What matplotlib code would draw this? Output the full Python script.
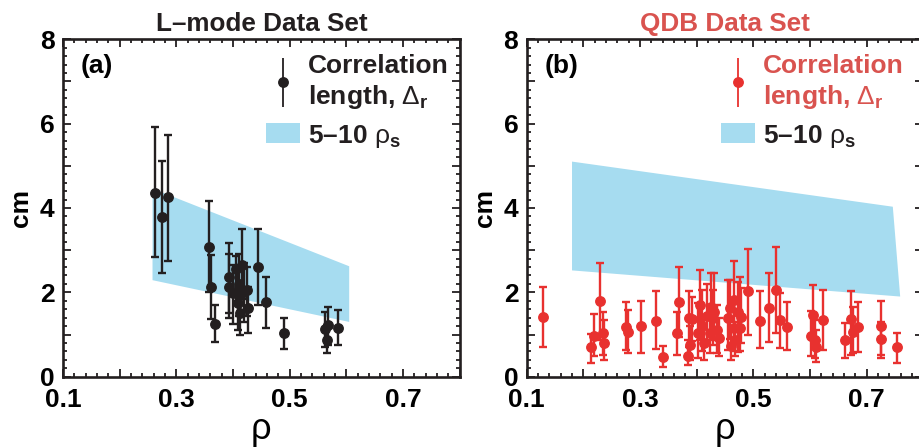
import numpy as np
import matplotlib
matplotlib.use("Agg")
import matplotlib.pyplot as plt
from matplotlib.ticker import MultipleLocator, FixedLocator, FixedFormatter
from matplotlib.container import ErrorbarContainer
from matplotlib.legend_handler import HandlerErrorbar

plt.rcParams['font.family'] = ['Liberation Sans', 'DejaVu Sans']
plt.rcParams['mathtext.fontset'] = 'custom'
plt.rcParams['mathtext.rm'] = 'Liberation Sans'
plt.rcParams['mathtext.it'] = 'Liberation Sans'
plt.rcParams['mathtext.bf'] = 'Liberation Sans:bold'

# panel (a): L-mode data set  (rho, value, lower end, upper end of error bar)
rho_a = [0.262, 0.274, 0.286, 0.358, 0.361, 0.368, 0.392, 0.392, 0.400, 0.405,
         0.408, 0.410, 0.413, 0.415, 0.420, 0.425, 0.427, 0.4435, 0.458, 0.4905,
         0.562, 0.565, 0.567, 0.586]
dr_a = [4.36, 3.79, 4.25, 3.08, 2.13, 1.26, 2.36, 2.13, 1.98, 2.55,
        1.75, 2.20, 1.50, 2.65, 2.00, 2.05, 1.62, 2.61, 1.78, 1.03,
        1.12, 0.87, 1.23, 1.16]
lo_a = [2.83, 2.45, 2.75, 2.00, 1.36, 0.82, 1.50, 1.38, 1.25, 1.80,
        1.10, 1.45, 1.00, 1.85, 1.30, 1.45, 1.04, 1.70, 1.15, 0.65,
        0.71, 0.55, 0.75, 0.75]
hi_a = [5.91, 5.12, 5.73, 4.17, 2.89, 1.70, 3.16, 2.91, 2.65, 2.85,
        2.55, 2.90, 2.10, 3.50, 2.70, 2.60, 2.13, 3.49, 2.37, 1.38,
        1.54, 1.23, 1.66, 1.58]

# panel (b): QDB data set
rho_b = [0.128, 0.213, 0.219, 0.230, 0.235, 0.236, 0.275, 0.279, 0.301, 0.329,
         0.341, 0.365, 0.369, 0.385, 0.387, 0.389, 0.392, 0.403, 0.405, 0.410,
         0.412, 0.418, 0.424, 0.426, 0.428, 0.431, 0.436, 0.440, 0.456, 0.459,
         0.460, 0.465, 0.466, 0.468, 0.472, 0.476, 0.478, 0.491, 0.512, 0.528,
         0.540, 0.547, 0.559, 0.602, 0.606, 0.608, 0.611, 0.622, 0.662, 0.672,
         0.676, 0.684, 0.725, 0.726, 0.753]
dr_b = [1.41, 0.70, 0.97, 1.79, 1.04, 0.79, 1.17, 1.07, 1.20, 1.32,
        0.46, 1.03, 1.76, 0.50, 1.38, 0.75, 1.36, 1.03, 1.70, 1.19,
        0.80, 1.45, 1.03, 1.66, 1.38, 1.54, 1.11, 0.91, 1.38, 1.62,
        0.73, 1.82, 1.15, 0.87, 1.54, 1.15, 1.42, 2.02, 1.33, 1.64,
        2.06, 1.34, 1.17, 0.97, 1.46, 0.87, 0.71, 1.34, 0.87, 1.36,
        1.07, 1.17, 1.20, 0.89, 0.70]
lo_b = [0.71, 0.33, 0.49, 0.87, 0.51, 0.40, 0.63, 0.55, 0.55, 0.65,
        0.24, 0.51, 0.95, 0.28, 0.71, 0.40, 0.85, 0.45, 0.87, 0.60,
        0.40, 0.80, 0.55, 0.87, 0.75, 0.90, 0.55, 0.50, 0.63, 0.90,
        0.40, 0.87, 0.60, 0.50, 0.59, 0.60, 0.80, 0.99, 0.67, 0.83,
        1.03, 0.67, 0.63, 0.50, 0.87, 0.45, 0.35, 0.63, 0.44, 0.51,
        0.55, 0.59, 0.51, 0.44, 0.33]
hi_b = [2.12, 1.01, 1.49, 2.69, 1.54, 1.34, 1.78, 1.58, 1.79, 2.02,
        0.73, 1.54, 2.59, 0.87, 2.02, 1.20, 1.90, 1.75, 2.53, 2.05,
        1.35, 2.20, 1.65, 2.47, 2.05, 2.47, 1.70, 1.40, 2.29, 2.30,
        1.20, 2.75, 1.75, 1.30, 2.25, 2.37, 2.10, 3.02, 2.02, 2.45,
        3.07, 1.99, 1.78, 1.55, 2.17, 1.35, 1.10, 2.06, 1.27, 2.02,
        1.65, 1.78, 1.80, 1.30, 1.03]

# 5-10 rho_s bands
band_a_rho = [0.257, 0.604]
band_a_low = [2.30, 1.31]
band_a_high = [4.47, 2.63]
band_b_top_rho = [0.180, 0.746]
band_b_top = [5.10, 4.03]
band_b_bot_rho = [0.180, 0.759]
band_b_bot = [2.52, 1.90]

x_ticks = [0.1, 0.2, 0.3, 0.4, 0.5, 0.6, 0.7, 0.8]
x_labels = ['0.1', '', '0.3', '', '0.5', '', '0.7', '']
y_ticks = [0, 1, 2, 3, 4, 5, 6, 7, 8]
y_labels = ['0', '', '2', '', '4', '', '6', '', '8']

black = '#231f20'
red = '#e8312f'
red_text = '#d9534f'
blue = '#a6dcf0'
fs = 19

fig = plt.figure(figsize=(9.19, 4.48), dpi=100)
ax1 = fig.add_axes([0.0686, 0.1592, 0.4317, 0.7531])
ax2 = fig.add_axes([0.5731, 0.1592, 0.4317, 0.7531])


def style(ax):
    ax.set_xlim(0.1, 0.8)
    ax.set_ylim(0, 8)
    ax.xaxis.set_major_locator(FixedLocator(x_ticks))
    ax.xaxis.set_major_formatter(FixedFormatter(x_labels))
    ax.xaxis.set_minor_locator(MultipleLocator(0.02))
    ax.yaxis.set_major_locator(FixedLocator(y_ticks))
    ax.yaxis.set_major_formatter(FixedFormatter(y_labels))
    ax.yaxis.set_minor_locator(MultipleLocator(0.2))
    ax.tick_params(which='both', direction='in', top=True, right=True,
                   color=black, width=1.3)
    ax.tick_params(which='major', length=5.5, labelsize=fs, pad=6)
    ax.tick_params(axis='x', which='major', pad=8)
    ax.tick_params(which='minor', length=3.2)
    for lab in ax.get_xticklabels() + ax.get_yticklabels():
        lab.set_fontweight('bold')
    for sp in ax.spines.values():
        sp.set_linewidth(1.9)
        sp.set_color(black)
    ax.set_xlabel('ρ', fontsize=26, labelpad=0)
    ax.set_ylabel('cm', fontsize=fs, fontweight='bold', labelpad=5)


def draw(ax, rho, dr, lo, hi, color):
    dr = np.array(dr)
    yerr = [dr - np.array(lo), np.array(hi) - dr]
    ax.errorbar(rho, dr, yerr=yerr, fmt='o', color=color, ms=6.8,
                elinewidth=1.7, capsize=3.2, capthick=1.7, zorder=3)
    proxy = ax.errorbar([np.nan], [np.nan], yerr=[np.nan], fmt='o', color=color,
                        ms=6.8, elinewidth=1.3, capsize=0)
    return proxy


# (a)
band1 = ax1.fill_between(band_a_rho, band_a_low, band_a_high, color=blue,
                         lw=0, zorder=1, label='5–10 $\\rho_{\\mathbf{s}}$')
p1 = draw(ax1, rho_a, dr_a, lo_a, hi_a, black)
style(ax1)
ax1.set_title('L–mode Data Set', fontsize=18.8, fontweight='bold', color=black, pad=6)
ax1.text(0.045, 0.955, '(a)', transform=ax1.transAxes, fontsize=fs,
         fontweight='bold', va='top', ha='left')

# (b)
band2 = ax2.fill(band_b_top_rho + band_b_bot_rho[::-1],
                 band_b_top + band_b_bot[::-1], color=blue, lw=0, zorder=1,
                 label='5–10 $\\rho_{\\mathbf{s}}$')[0]
p2 = draw(ax2, rho_b, dr_b, lo_b, hi_b, red)
style(ax2)
ax2.set_title('QDB Data Set', fontsize=18.8, fontweight='bold', color=red_text, pad=6)
ax2.text(0.045, 0.955, '(b)', transform=ax2.transAxes, fontsize=fs,
         fontweight='bold', va='top', ha='left')

lab1 = 'Correlation\nlength, $\\Delta_{\\mathbf{r}}$'
for ax, proxy, band, x0, tcol in [(ax1, p1, band1, 0.512, black),
                                  (ax2, p2, band2, 0.490, red_text)]:
    leg = ax.legend([proxy, band], [lab1, band.get_label()], loc='upper left',
                    bbox_to_anchor=(x0, 0.955), frameon=False, numpoints=1,
                    prop={'size': fs, 'weight': 'bold'}, borderpad=0,
                    borderaxespad=0, handlelength=1.29, handleheight=0.8,
                    handletextpad=0.28, labelspacing=0.45,
                    handler_map={ErrorbarContainer: HandlerErrorbar(yerr_size=0.93)})
    texts = leg.get_texts()
    texts[0].set_color(tcol)
    texts[0].set_linespacing(1.2)
    texts[1].set_color(black)

fig.savefig('out.png', dpi=100)
